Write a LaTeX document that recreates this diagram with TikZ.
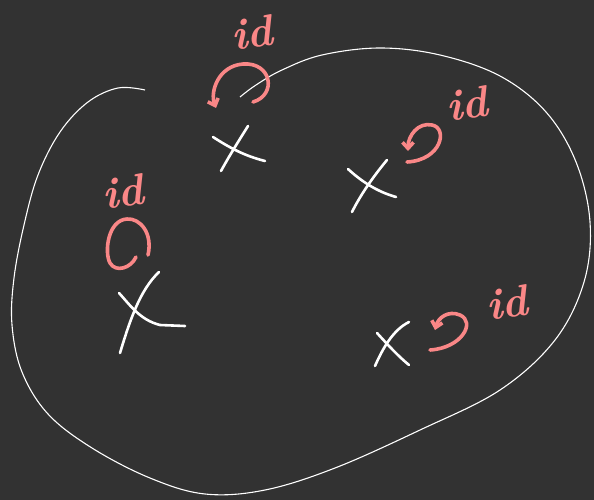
\documentclass[tikz,border=0pt]{standalone}
\usetikzlibrary{arrows.meta}
\definecolor{bg}{RGB}{50,50,50}
\definecolor{pinkink}{RGB}{250,135,135}
\tikzset{
  blob/.style={white, line width=1.1pt},
  xmark/.style={white, line width=2.6pt, line cap=round},
  loopink/.style={pinkink, line width=3.6pt, line cap=round, line join=round},
  loopar/.style={loopink, -{Straight Barb[length=6pt,width=11pt]}},
  idlabel/.style={pinkink, font=\fontsize{44}{44}\selectfont\itshape\bfseries, inner sep=0pt}
}
\begin{document}
\begin{tikzpicture}[x=1pt,y=-1pt]
\fill[bg] (0,0) rectangle (594,500);
\useasboundingbox (0,0) rectangle (594,500);
% the closed-ish curve
\draw[blob] plot[smooth, tension=0.6] coordinates {
 (145,90) (118,88) (88,102) (60,132) (38,175) (24,225) (14,278) (12,325) (22,372)
 (48,414) (92,448) (150,478) (205,494) (265,490) (335,468) (420,430) (500,390)
 (555,340) (584,282) (590,222) (576,162) (546,112) (500,76) (440,55) (380,48)
 (322,55) (282,70) (256,85) (240,97)};
% X marks
\draw[xmark] (213,137) .. controls (230,148) and (245,156) .. (265,161);
\draw[xmark] (248,126) .. controls (238,142) and (228,158) .. (221,171);
\draw[xmark] (348,169) .. controls (362,182) and (378,192) .. (396,197);
\draw[xmark] (387,160) .. controls (372,178) and (360,196) .. (352,212);
\draw[xmark] (119,293) .. controls (130,305) and (140,320) .. (160,325) -- (185,326);
\draw[xmark] (159,272) .. controls (140,290) and (130,320) .. (120,353);
\draw[xmark] (377,333) .. controls (388,345) and (398,356) .. (409,365);
\draw[xmark] (409,322) .. controls (393,330) and (383,348) .. (375,366);
% pink loops
\draw[loopar] (253,102) .. controls (277,95) and (272,62) .. (243,64) .. controls (218,66) and (210,92) .. (216,108);
\draw[loopar] (407,162) .. controls (442,160) and (448,128) .. (432,125) .. controls (418,122) and (408,136) .. (408,151);
\draw[loopink] (148,255) .. controls (153,233) and (140,218) .. (127,219) .. controls (108,220) and (104,252) .. (110,263) .. controls (116,273) and (131,268) .. (136,257);
\draw[loopar] (430,350) .. controls (462,348) and (476,322) .. (460,315) .. controls (448,310) and (438,318) .. (435,330);
% labels
\node[idlabel, rotate=8] (id1) at (252,33) {id};
\node[idlabel, rotate=8] (id2) at (467,104) {id};
\node[idlabel, rotate=8] (id3) at (123,192) {id};
\node[idlabel, rotate=8] (id4) at (507,303) {id};
\end{tikzpicture}
\end{document}
